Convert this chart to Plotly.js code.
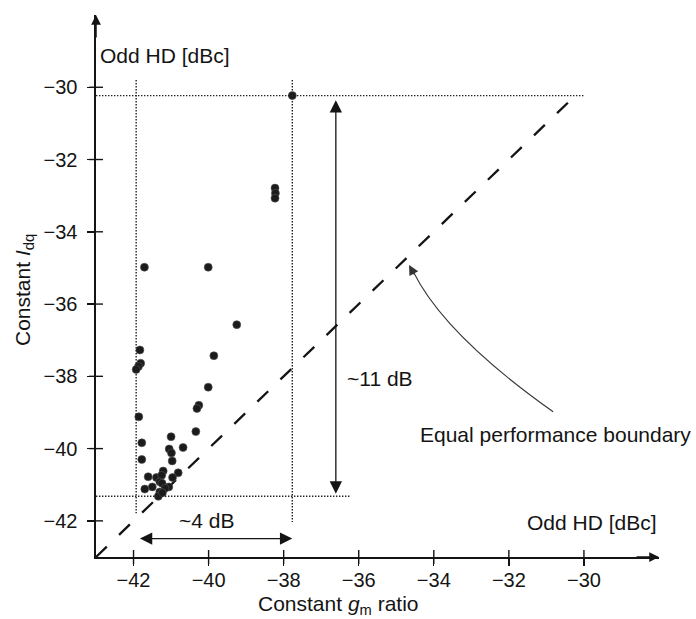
<!DOCTYPE html>
<html>
<head>
<meta charset="utf-8">
<script src="https://cdn.plot.ly/plotly-3.0.1.min.js"></script>
<style>
html,body{margin:0;padding:0;background:#ffffff;}
#chart{width:696px;height:619px;}
</style>
</head>
<body>
<div id="chart"></div>
<script>
// Odd HD [dBc] measured with constant gm ratio (x) and constant Idq (y)
const gmRatioOddHD = [-37.77, -38.23, -38.22, -38.23, -41.71, -40.01, -39.25, -41.83, -41.81, -41.87,
  -41.93, -39.86, -40.01, -40.26, -40.31, -41.86, -40.34, -41.00, -41.78, -41.05,
  -40.68, -40.99, -41.78, -40.97, -40.81, -41.21, -41.61, -41.39, -41.25, -40.96,
  -41.30, -41.24, -41.06, -41.16, -41.70, -41.50, -41.30, -41.34, -41.23];
const idqOddHD = [-30.23, -32.79, -32.93, -33.07, -34.98, -34.98, -36.57, -37.27, -37.64, -37.73,
  -37.81, -37.43, -38.30, -38.80, -38.89, -39.12, -39.53, -39.67, -39.84, -40.01,
  -39.97, -40.12, -40.30, -40.34, -40.67, -40.62, -40.78, -40.80, -40.74, -40.80,
  -40.92, -40.96, -41.06, -41.10, -41.12, -41.06, -41.20, -41.32, -41.22];
// Equal performance boundary (y = x)
const boundaryX = [-43, -30.4];
const boundaryY = [-43, -30.4];
// Axes
const tickValues = [-42, -40, -38, -36, -34, -32, -30];
const tickLabels = ['\u221242', '\u221240', '\u221238', '\u221236', '\u221234', '\u221232', '\u221230'];
const axisRange = [-43, -28];

const ink = '#141414';
const font = 'Liberation Sans, Arial, Helvetica, sans-serif';

const xMin = Math.min(...gmRatioOddHD), xMax = Math.max(...gmRatioOddHD);
const yMin = Math.min(...idqOddHD), yMax = Math.max(...idqOddHD);

const traces = [
  {
    x: boundaryX, y: boundaryY, type: 'scatter', mode: 'lines',
    line: {color: ink, width: 2.3, dash: '15px,17px'},
    hoverinfo: 'skip', showlegend: false
  },
  {
    x: gmRatioOddHD, y: idqOddHD, type: 'scatter', mode: 'markers',
    marker: {size: 8, color: '#1b1b1b', line: {width: 0.6, color: '#555'}},
    showlegend: false, cliponaxis: false
  }
];

const dotted = {color: '#222', width: 1.4, dash: '1.4px,1.6px'};
const shapes = [
  // extreme-value guide lines
  {type: 'line', xref: 'x', yref: 'y', x0: -43, x1: -30, y0: yMax, y1: yMax, line: dotted},
  {type: 'line', xref: 'x', yref: 'y', x0: -43, x1: -36.22, y0: yMin, y1: yMin, line: dotted},
  {type: 'line', xref: 'x', yref: 'y', x0: xMin, x1: xMin, y0: -29.8, y1: -41.79, line: dotted},
  {type: 'line', xref: 'x', yref: 'y', x0: xMax, x1: xMax, y0: -29.8, y1: -42.03, line: dotted},
  // curved pointer to the boundary
  {type: 'path', xref: 'x', yref: 'y',
   path: 'M -30.82,-38.98 Q -33.71,-36.86 -34.55,-35.1',
   line: {color: '#333', width: 1.1}}
];
// crossing tick marks
tickValues.forEach(v => {
  shapes.push({type: 'line', xref: 'x', yref: 'paper', x0: v, x1: v,
    ysizemode: 'pixel', yanchor: 0, y0: -7, y1: 7, line: {color: ink, width: 1.4}});
  shapes.push({type: 'line', xref: 'paper', yref: 'y', y0: v, y1: v,
    xsizemode: 'pixel', xanchor: 0, x0: -7, x1: 7, line: {color: ink, width: 1.4}});
});

const txt = (s) => ({size: s, color: ink, family: font});
const annotations = [
  // axis arrowheads
  {xref: 'paper', yref: 'paper', x: 0, y: 1, ax: 0, ay: 24, text: '', showarrow: true,
   arrowhead: 2, arrowsize: 1.3, arrowwidth: 1.5, arrowcolor: ink},
  {xref: 'paper', yref: 'paper', x: 1, y: 0, ax: -24, ay: 0, text: '', showarrow: true,
   arrowhead: 2, arrowsize: 1.3, arrowwidth: 1.5, arrowcolor: ink},
  // ~11 dB double arrow
  {xref: 'x', yref: 'y', axref: 'x', ayref: 'y', x: -36.61, y: -30.36, ax: -36.61, ay: -41.29,
   text: '', showarrow: true, arrowside: 'end+start', arrowhead: 2, startarrowhead: 2,
   arrowsize: 1.9, startarrowsize: 1.9, arrowwidth: 1.3, arrowcolor: ink, standoff: 0, startstandoff: 0},
  // ~4 dB double arrow
  {xref: 'x', yref: 'y', axref: 'x', ayref: 'y', x: -37.77, y: -42.49, ax: -41.87, ay: -42.49,
   text: '', showarrow: true, arrowside: 'end+start', arrowhead: 2, startarrowhead: 2,
   arrowsize: 1.9, startarrowsize: 1.9, arrowwidth: 1.3, arrowcolor: ink, standoff: 0, startstandoff: 0},
  // pointer arrowhead
  {xref: 'x', yref: 'y', axref: 'x', ayref: 'y', x: -34.66, y: -34.92, ax: -34.5, ay: -35.22,
   text: '', showarrow: true, arrowhead: 2, arrowsize: 1.8, arrowwidth: 1.1, arrowcolor: '#333', standoff: 0},
  // labels
  {xref: 'x', yref: 'y', x: -40.05, y: -42.0, text: '~4 dB', showarrow: false, font: txt(21),
   xanchor: 'center', yanchor: 'middle'},
  {xref: 'x', yref: 'y', x: -35.44, y: -38.05, text: '~11 dB', showarrow: false, font: txt(21),
   xanchor: 'center', yanchor: 'middle'},
  {xref: 'x', yref: 'y', x: -34.43, y: -39.6, text: 'Equal performance boundary', showarrow: false,
   font: txt(21), xanchor: 'left', yanchor: 'middle'},
  {xref: 'paper', yref: 'paper', x: 0, y: 1, xshift: 2, yshift: -40, text: 'Odd HD [dBc]',
   showarrow: false, font: txt(21), xanchor: 'left', yanchor: 'middle'},
  {xref: 'paper', yref: 'paper', x: 1, y: 0, yshift: 35, text: 'Odd HD [dBc]',
   showarrow: false, font: txt(21), xanchor: 'right', yanchor: 'middle'},
  {xref: 'paper', yref: 'paper', x: 0.4316, y: 0, yshift: -48,
   text: 'Constant <i>g</i><sub>m</sub> ratio', showarrow: false, font: txt(21),
   xanchor: 'center', yanchor: 'middle'},
  {xref: 'paper', yref: 'paper', x: 0, y: 0.5, xshift: -72, yshift: -4, textangle: -90,
   text: 'Constant <i>I</i><sub>dq</sub>', showarrow: false, font: txt(21),
   xanchor: 'center', yanchor: 'middle'}
];

const axisCommon = {
  range: axisRange, tickmode: 'array', tickvals: tickValues, ticktext: tickLabels,
  ticks: 'outside', ticklen: 7, tickwidth: 1.4, tickcolor: ink,
  showline: true, linecolor: ink, linewidth: 1.6, showgrid: false, zeroline: false,
  tickfont: {size: 20, color: ink, family: font}, fixedrange: true
};

const layout = {
  width: 696, height: 619,
  margin: {l: 96, r: 37, t: 15, b: 62},
  paper_bgcolor: '#ffffff', plot_bgcolor: '#ffffff',
  font: {family: font, color: ink},
  showlegend: false,
  xaxis: Object.assign({}, axisCommon, {ticklabelstandoff: -3}),
  yaxis: Object.assign({}, axisCommon, {ticklabelstandoff: 6}),
  shapes: shapes,
  annotations: annotations,
  hovermode: false
};

Plotly.newPlot('chart', traces, layout, {staticPlot: true, displayModeBar: false});
</script>
</body>
</html>
